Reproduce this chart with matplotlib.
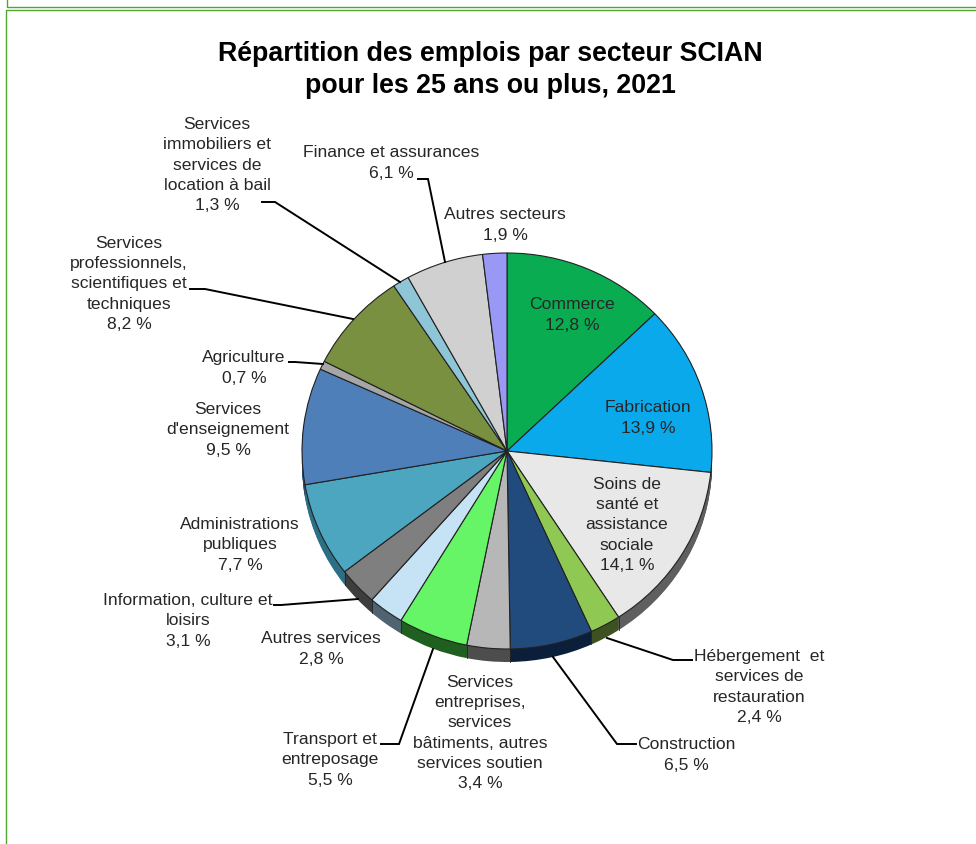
import numpy as np
import matplotlib
matplotlib.use("Agg")
import matplotlib.pyplot as plt

plt.rcParams['font.family'] = ['Liberation Sans', 'DejaVu Sans']

W, H = 976, 845

# Données du graphique
secteurs = ["Commerce", "Fabrication", "Soins de\nsanté et\nassistance\nsociale",
            "Hébergement  et\nservices de\nrestauration", "Construction",
            "Services\nentreprises,\nservices\nbâtiments, autres\nservices soutien",
            "Transport et\nentreposage", "Autres services",
            "Information, culture et\nloisirs", "Administrations\npubliques",
            "Services\nd'enseignement", "Agriculture",
            "Services\nprofessionnels,\nscientifiques et\ntechniques",
            "Services\nimmobiliers et\nservices de\nlocation à bail",
            "Finance et assurances", "Autres secteurs"]
valeurs = [12.8, 13.9, 14.1, 2.4, 6.5, 3.4, 5.5, 2.8, 3.1, 7.7, 9.5, 0.7, 8.2, 1.3, 6.1, 1.9]
valeurs_txt = ["12,8 %", "13,9 %", "14,1 %", "2,4 %", "6,5 %", "3,4 %", "5,5 %", "2,8 %",
               "3,1 %", "7,7 %", "9,5 %", "0,7 %", "8,2 %", "1,3 %", "6,1 %", "1,9 %"]
couleurs = ["#0aac52", "#0aa9ec", "#e8e8e8", "#8fc953", "#224b7d", "#b7b7b7", "#66f566", "#c6e2f5",
            "#7f7f7f", "#4da6c0", "#4f7fb9", "#a6a6a6", "#789040", "#8ec6d8", "#d0d0d0", "#9999f5"]
couleurs_cote = ["#06632f", "#06628a", "#5f5f5f", "#3d5220", "#0b1e3a", "#4d4d4d", "#1f5f1f", "#4f6470",
                 "#3d3d3d", "#2c7087", "#2e4a6c", "#606060", "#46542a", "#527382", "#787878", "#59598f"]

# Position des étiquettes (pixels)
pos_labels = [(572, 315), (648, 418), (627, 525), (759, 687), (686, 755), (480, 733),
              (330, 760), (321, 649), (188, 621), (240, 545), (228, 430), (244, 368),
              (129, 284), (217, 165), (391, 163), (505, 225)]

# Lignes de rappel (pixels)
rappels = [
    [(607, 639), (673, 661), (692, 661)],
    [(553, 658), (617, 745), (636, 745)],
    [(433, 650), (399, 745), (381, 745)],
    [(358, 600), (281, 606), (274, 606)],
    [(323, 365), (295, 363), (289, 363)],
    [(353, 320), (205, 290), (190, 290)],
    [(400, 283), (275, 203), (262, 203)],
    [(445, 263), (428, 180), (418, 180)],
]

cx, cy, rx, ry, prof = 507, 452, 205, 198, 13


def main():
    fig = plt.figure(figsize=(W / 100, H / 100), dpi=100, facecolor='white')

    # Axe du camembert : l'échelle verticale écrase le cercle en ellipse
    ax = fig.add_axes([0, 0, 1, 1])
    k = rx / ry
    for d in range(prof, 0, -1):
        ax.pie(valeurs, colors=couleurs_cote, startangle=90, counterclock=False,
               radius=rx, center=(cx, (H - cy - d) * k),
               wedgeprops=dict(linewidth=0.6, edgecolor='none'))
    ax.pie(valeurs, colors=couleurs, startangle=90, counterclock=False,
           radius=rx, center=(cx, (H - cy) * k),
           wedgeprops=dict(linewidth=0.8, edgecolor='#222222'))
    ax.set_aspect('auto')
    ax.set_xlim(0, W)
    ax.set_ylim(0, H * k)

    # Séparations sur le côté du camembert
    cumul = np.cumsum(valeurs) / np.sum(valeurs) * 2 * np.pi
    for a in cumul:
        if np.cos(a) < 0 and abs(np.sin(a)) < 0.95:
            x = cx + rx * np.sin(a)
            y0 = (H - cy + ry * np.cos(a)) * k
            ax.plot([x, x], [y0, y0 - prof * k], color='#222222', lw=0.6)

    # Axe en pixels pour les textes et les lignes
    ov = fig.add_axes([0, 0, 1, 1])
    ov.set_xlim(0, W)
    ov.set_ylim(H, 0)
    ov.axis('off')

    # Cadres verts
    vert = '#4fa82e'
    ov.plot([7, 7, W], [0, 8, 8], color=vert, lw=1.0)
    ov.plot([5.5, 5.5, W], [H, 10.5, 10.5], color=vert, lw=1.0)

    ov.text(490, 70, "Répartition des emplois par secteur SCIAN\npour les 25 ans ou plus, 2021",
            ha='center', va='center', fontsize=19.3, fontweight='bold', color='black', linespacing=1.32)

    for nom, val, (x, y) in zip(secteurs, valeurs_txt, pos_labels):
        ov.text(x, y, nom + "\n" + val, ha='center', va='center', fontsize=12.6,
                color='#262626', linespacing=1.43)

    for pts in rappels:
        xs, ys = zip(*pts)
        ov.plot(xs, ys, color='black', lw=1.4, solid_joinstyle='miter')

    fig.savefig('out.png', dpi=100, facecolor='white')


if __name__ == "__main__":
    main()
